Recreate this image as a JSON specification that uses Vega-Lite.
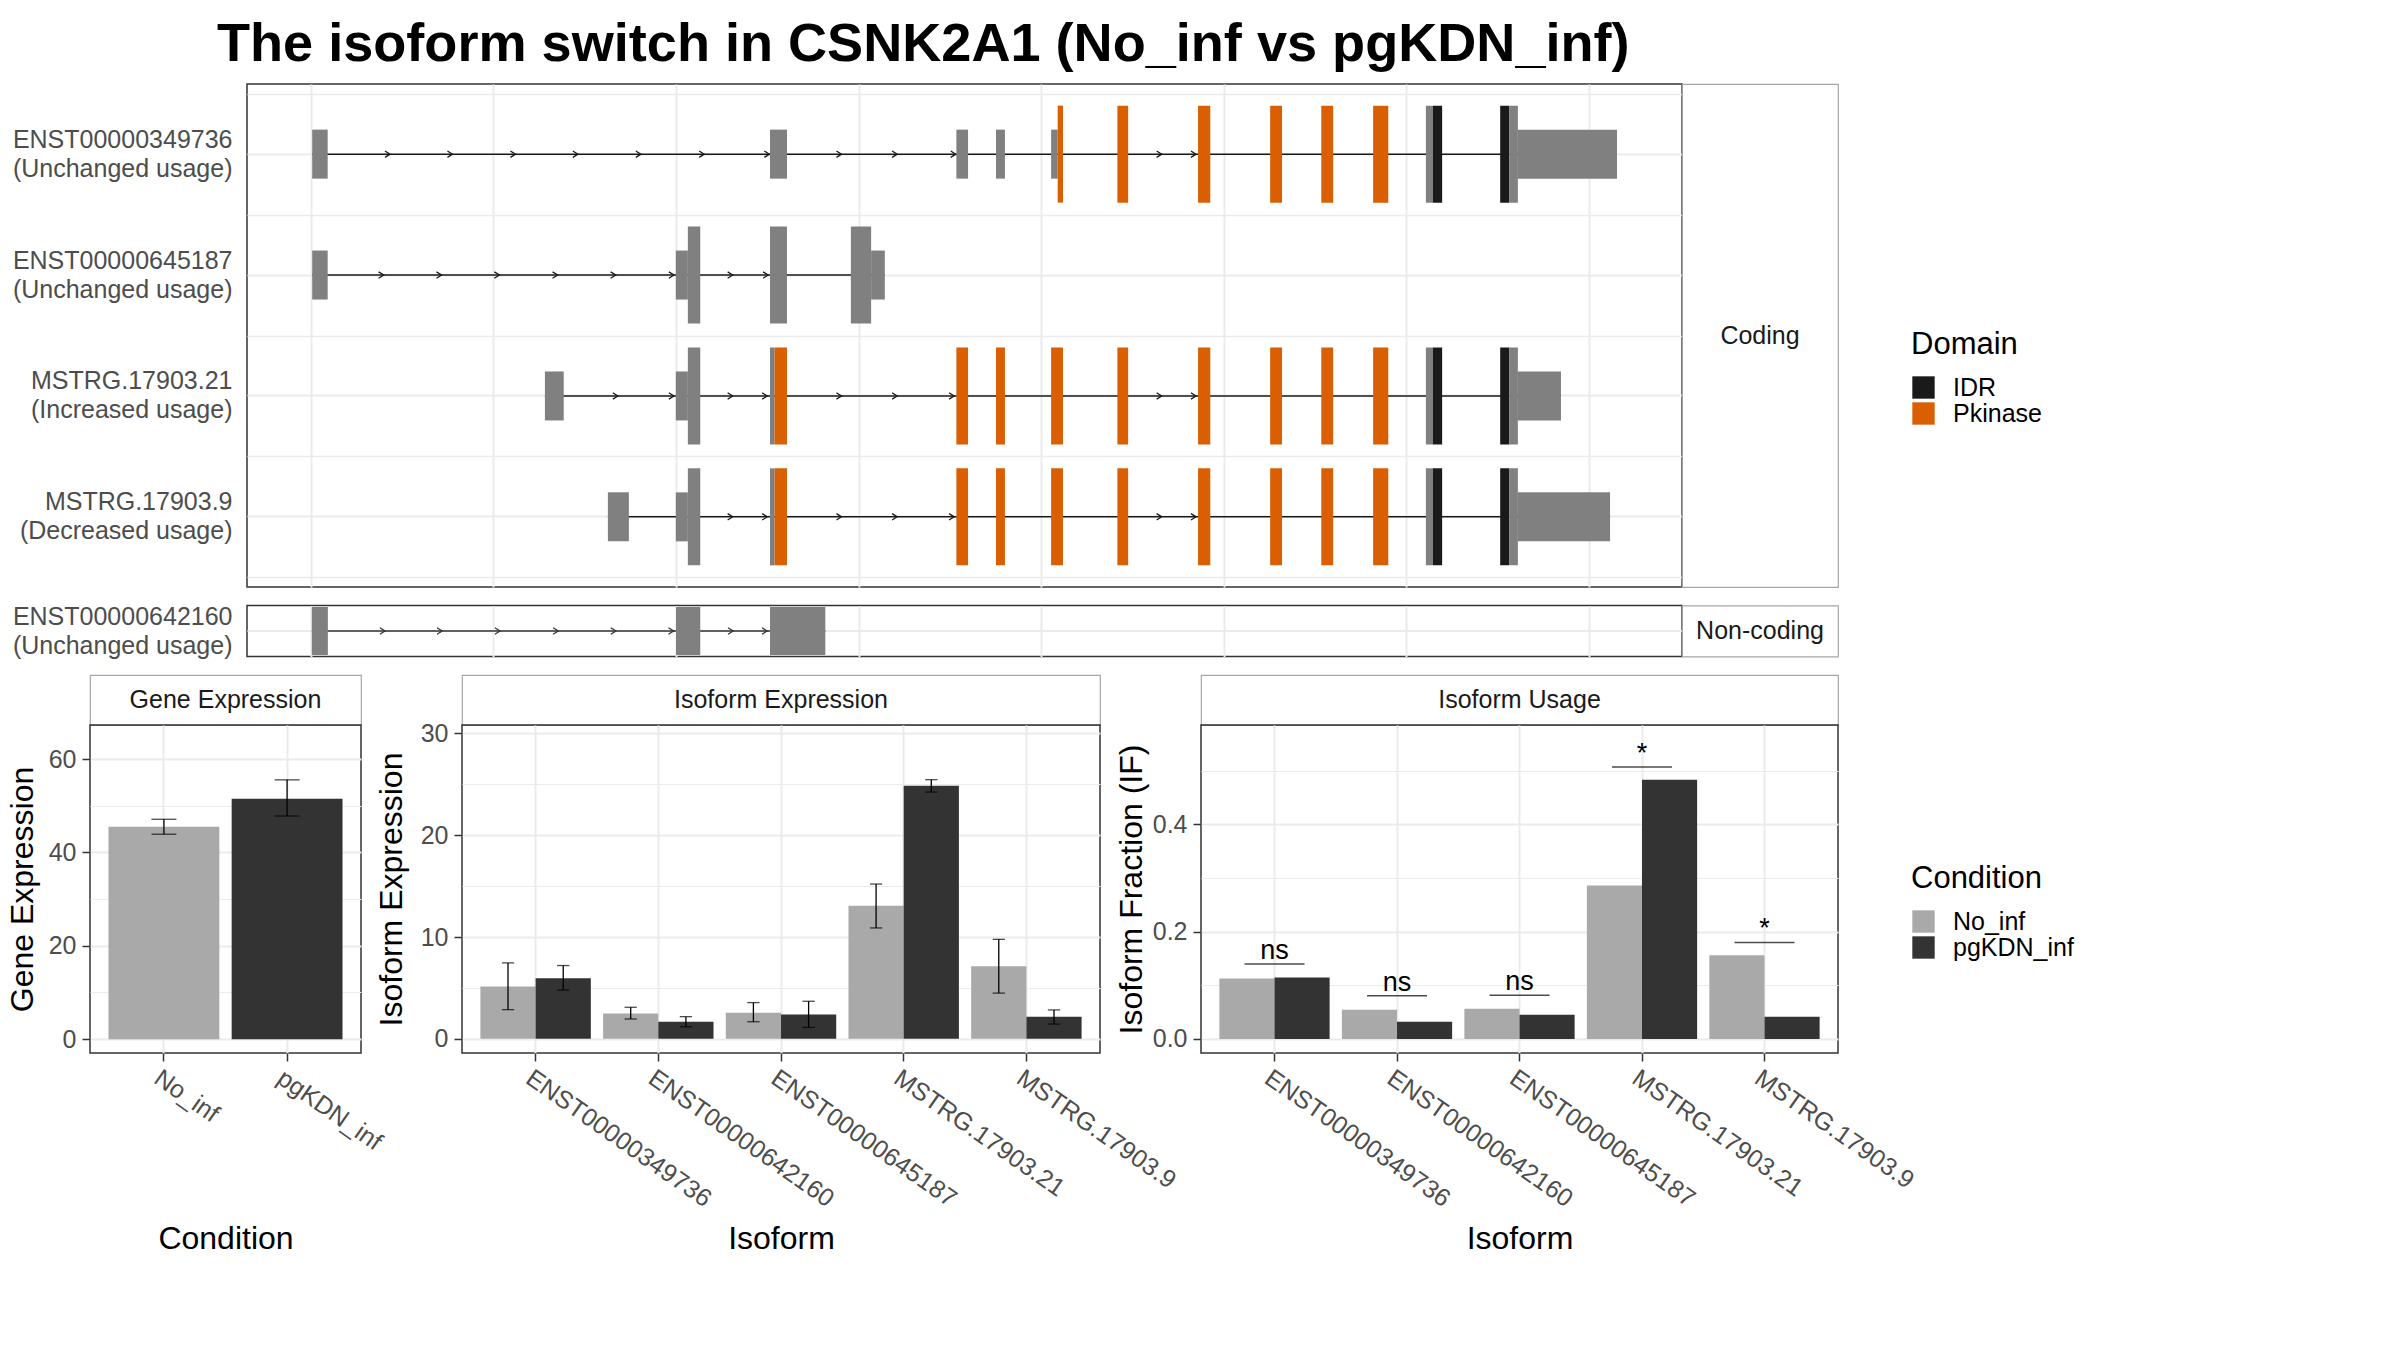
{
  "$schema": "https://vega.github.io/schema/vega-lite/v6.json",
  "background": "white",
  "padding": {"left": 5, "top": 18, "right": 10, "bottom": 10},
  "title": {"text": "The isoform switch in CSNK2A1 (No_inf vs pgKDN_inf)", "anchor": "start", "frame": "group", "dx": 127, "fontSize": 54.1, "fontWeight": "bold", "color": "black", "offset": 11},
  "config": {
    "font": "Liberation Sans",
    "view": {"stroke": "#333333", "strokeWidth": 1.5},
    "axis": {"labelFontSize": 25, "labelColor": "#4D4D4D", "labelLimit": 400, "titleFontSize": 32, "titleFontWeight": "normal", "titleColor": "black", "tickColor": "#333333", "tickSize": 8, "tickWidth": 1.5, "domain": false, "gridColor": "#EBEBEB", "gridWidth": 2},
    "legend": {"titleFontSize": 31, "titleFontWeight": "normal", "titleColor": "black", "labelFontSize": 25, "labelColor": "black", "symbolType": "square", "symbolSize": 500, "symbolStrokeWidth": 0, "symbolOpacity": 1, "rowPadding": 0, "labelOffset": 17, "titlePadding": 14}
  },
  "datasets": {
    "exons": [
      {"t": "ENST00000349736 (Unchanged usage)", "start": 0.07, "end": 0.92, "part": "UTR", "domain": "none"},
      {"t": "ENST00000349736 (Unchanged usage)", "start": 25.15, "end": 26.08, "part": "UTR", "domain": "none"},
      {"t": "ENST00000349736 (Unchanged usage)", "start": 35.36, "end": 36.0, "part": "UTR", "domain": "none"},
      {"t": "ENST00000349736 (Unchanged usage)", "start": 37.53, "end": 38.02, "part": "UTR", "domain": "none"},
      {"t": "ENST00000349736 (Unchanged usage)", "start": 40.55, "end": 40.91, "part": "UTR", "domain": "none"},
      {"t": "ENST00000349736 (Unchanged usage)", "start": 40.91, "end": 41.2, "part": "CDS", "domain": "Pkinase"},
      {"t": "ENST00000349736 (Unchanged usage)", "start": 44.18, "end": 44.77, "part": "CDS", "domain": "Pkinase"},
      {"t": "ENST00000349736 (Unchanged usage)", "start": 48.6, "end": 49.27, "part": "CDS", "domain": "Pkinase"},
      {"t": "ENST00000349736 (Unchanged usage)", "start": 52.55, "end": 53.2, "part": "CDS", "domain": "Pkinase"},
      {"t": "ENST00000349736 (Unchanged usage)", "start": 55.35, "end": 56.0, "part": "CDS", "domain": "Pkinase"},
      {"t": "ENST00000349736 (Unchanged usage)", "start": 58.19, "end": 59.02, "part": "CDS", "domain": "Pkinase"},
      {"t": "ENST00000349736 (Unchanged usage)", "start": 61.08, "end": 61.47, "part": "CDS", "domain": "none"},
      {"t": "ENST00000349736 (Unchanged usage)", "start": 61.47, "end": 61.97, "part": "CDS", "domain": "IDR"},
      {"t": "ENST00000349736 (Unchanged usage)", "start": 65.15, "end": 65.64, "part": "CDS", "domain": "IDR"},
      {"t": "ENST00000349736 (Unchanged usage)", "start": 65.64, "end": 66.12, "part": "CDS", "domain": "none"},
      {"t": "ENST00000349736 (Unchanged usage)", "start": 66.12, "end": 71.55, "part": "UTR", "domain": "none"},
      {"t": "ENST00000645187 (Unchanged usage)", "start": 0.07, "end": 0.92, "part": "UTR", "domain": "none"},
      {"t": "ENST00000645187 (Unchanged usage)", "start": 19.99, "end": 20.65, "part": "UTR", "domain": "none"},
      {"t": "ENST00000645187 (Unchanged usage)", "start": 20.65, "end": 21.33, "part": "CDS", "domain": "none"},
      {"t": "ENST00000645187 (Unchanged usage)", "start": 25.15, "end": 26.08, "part": "CDS", "domain": "none"},
      {"t": "ENST00000645187 (Unchanged usage)", "start": 29.58, "end": 30.69, "part": "CDS", "domain": "none"},
      {"t": "ENST00000645187 (Unchanged usage)", "start": 30.69, "end": 31.44, "part": "UTR", "domain": "none"},
      {"t": "MSTRG.17903.21 (Increased usage)", "start": 12.82, "end": 13.85, "part": "UTR", "domain": "none"},
      {"t": "MSTRG.17903.21 (Increased usage)", "start": 19.99, "end": 20.65, "part": "UTR", "domain": "none"},
      {"t": "MSTRG.17903.21 (Increased usage)", "start": 20.65, "end": 21.33, "part": "CDS", "domain": "none"},
      {"t": "MSTRG.17903.21 (Increased usage)", "start": 25.15, "end": 25.4, "part": "CDS", "domain": "none"},
      {"t": "MSTRG.17903.21 (Increased usage)", "start": 25.4, "end": 26.08, "part": "CDS", "domain": "Pkinase"},
      {"t": "MSTRG.17903.21 (Increased usage)", "start": 35.36, "end": 36.0, "part": "CDS", "domain": "Pkinase"},
      {"t": "MSTRG.17903.21 (Increased usage)", "start": 37.53, "end": 38.02, "part": "CDS", "domain": "Pkinase"},
      {"t": "MSTRG.17903.21 (Increased usage)", "start": 40.55, "end": 41.2, "part": "CDS", "domain": "Pkinase"},
      {"t": "MSTRG.17903.21 (Increased usage)", "start": 44.18, "end": 44.77, "part": "CDS", "domain": "Pkinase"},
      {"t": "MSTRG.17903.21 (Increased usage)", "start": 48.6, "end": 49.27, "part": "CDS", "domain": "Pkinase"},
      {"t": "MSTRG.17903.21 (Increased usage)", "start": 52.55, "end": 53.2, "part": "CDS", "domain": "Pkinase"},
      {"t": "MSTRG.17903.21 (Increased usage)", "start": 55.35, "end": 56.0, "part": "CDS", "domain": "Pkinase"},
      {"t": "MSTRG.17903.21 (Increased usage)", "start": 58.19, "end": 59.02, "part": "CDS", "domain": "Pkinase"},
      {"t": "MSTRG.17903.21 (Increased usage)", "start": 61.08, "end": 61.47, "part": "CDS", "domain": "none"},
      {"t": "MSTRG.17903.21 (Increased usage)", "start": 61.47, "end": 61.97, "part": "CDS", "domain": "IDR"},
      {"t": "MSTRG.17903.21 (Increased usage)", "start": 65.15, "end": 65.64, "part": "CDS", "domain": "IDR"},
      {"t": "MSTRG.17903.21 (Increased usage)", "start": 65.64, "end": 66.12, "part": "CDS", "domain": "none"},
      {"t": "MSTRG.17903.21 (Increased usage)", "start": 66.12, "end": 68.48, "part": "UTR", "domain": "none"},
      {"t": "MSTRG.17903.9 (Decreased usage)", "start": 16.27, "end": 17.42, "part": "UTR", "domain": "none"},
      {"t": "MSTRG.17903.9 (Decreased usage)", "start": 19.99, "end": 20.65, "part": "UTR", "domain": "none"},
      {"t": "MSTRG.17903.9 (Decreased usage)", "start": 20.65, "end": 21.33, "part": "CDS", "domain": "none"},
      {"t": "MSTRG.17903.9 (Decreased usage)", "start": 25.15, "end": 25.4, "part": "CDS", "domain": "none"},
      {"t": "MSTRG.17903.9 (Decreased usage)", "start": 25.4, "end": 26.08, "part": "CDS", "domain": "Pkinase"},
      {"t": "MSTRG.17903.9 (Decreased usage)", "start": 35.36, "end": 36.0, "part": "CDS", "domain": "Pkinase"},
      {"t": "MSTRG.17903.9 (Decreased usage)", "start": 37.53, "end": 38.02, "part": "CDS", "domain": "Pkinase"},
      {"t": "MSTRG.17903.9 (Decreased usage)", "start": 40.55, "end": 41.2, "part": "CDS", "domain": "Pkinase"},
      {"t": "MSTRG.17903.9 (Decreased usage)", "start": 44.18, "end": 44.77, "part": "CDS", "domain": "Pkinase"},
      {"t": "MSTRG.17903.9 (Decreased usage)", "start": 48.6, "end": 49.27, "part": "CDS", "domain": "Pkinase"},
      {"t": "MSTRG.17903.9 (Decreased usage)", "start": 52.55, "end": 53.2, "part": "CDS", "domain": "Pkinase"},
      {"t": "MSTRG.17903.9 (Decreased usage)", "start": 55.35, "end": 56.0, "part": "CDS", "domain": "Pkinase"},
      {"t": "MSTRG.17903.9 (Decreased usage)", "start": 58.19, "end": 59.02, "part": "CDS", "domain": "Pkinase"},
      {"t": "MSTRG.17903.9 (Decreased usage)", "start": 61.08, "end": 61.47, "part": "CDS", "domain": "none"},
      {"t": "MSTRG.17903.9 (Decreased usage)", "start": 61.47, "end": 61.97, "part": "CDS", "domain": "IDR"},
      {"t": "MSTRG.17903.9 (Decreased usage)", "start": 65.15, "end": 65.64, "part": "CDS", "domain": "IDR"},
      {"t": "MSTRG.17903.9 (Decreased usage)", "start": 65.64, "end": 66.12, "part": "CDS", "domain": "none"},
      {"t": "MSTRG.17903.9 (Decreased usage)", "start": 66.12, "end": 71.17, "part": "UTR", "domain": "none"}
    ],
    "introns": [
      {"t": "ENST00000349736 (Unchanged usage)", "start": 0.07, "end": 71.55},
      {"t": "ENST00000645187 (Unchanged usage)", "start": 0.07, "end": 31.44},
      {"t": "MSTRG.17903.21 (Increased usage)", "start": 12.82, "end": 68.48},
      {"t": "MSTRG.17903.9 (Decreased usage)", "start": 16.27, "end": 71.17}
    ],
    "arrows": [
      {"t": "ENST00000349736 (Unchanged usage)", "pos": 4.34},
      {"t": "ENST00000349736 (Unchanged usage)", "pos": 7.76},
      {"t": "ENST00000349736 (Unchanged usage)", "pos": 11.21},
      {"t": "ENST00000349736 (Unchanged usage)", "pos": 14.63},
      {"t": "ENST00000349736 (Unchanged usage)", "pos": 18.08},
      {"t": "ENST00000349736 (Unchanged usage)", "pos": 21.55},
      {"t": "ENST00000349736 (Unchanged usage)", "pos": 25.12},
      {"t": "ENST00000349736 (Unchanged usage)", "pos": 29.07},
      {"t": "ENST00000349736 (Unchanged usage)", "pos": 32.12},
      {"t": "ENST00000349736 (Unchanged usage)", "pos": 35.33},
      {"t": "ENST00000349736 (Unchanged usage)", "pos": 46.61},
      {"t": "ENST00000349736 (Unchanged usage)", "pos": 48.49},
      {"t": "ENST00000645187 (Unchanged usage)", "pos": 3.99},
      {"t": "ENST00000645187 (Unchanged usage)", "pos": 7.16},
      {"t": "ENST00000645187 (Unchanged usage)", "pos": 10.33},
      {"t": "ENST00000645187 (Unchanged usage)", "pos": 13.52},
      {"t": "ENST00000645187 (Unchanged usage)", "pos": 16.7},
      {"t": "ENST00000645187 (Unchanged usage)", "pos": 19.89},
      {"t": "ENST00000645187 (Unchanged usage)", "pos": 23.11},
      {"t": "ENST00000645187 (Unchanged usage)", "pos": 25.05},
      {"t": "MSTRG.17903.21 (Increased usage)", "pos": 16.82},
      {"t": "MSTRG.17903.21 (Increased usage)", "pos": 19.89},
      {"t": "MSTRG.17903.21 (Increased usage)", "pos": 23.11},
      {"t": "MSTRG.17903.21 (Increased usage)", "pos": 25.0},
      {"t": "MSTRG.17903.21 (Increased usage)", "pos": 29.07},
      {"t": "MSTRG.17903.21 (Increased usage)", "pos": 32.12},
      {"t": "MSTRG.17903.21 (Increased usage)", "pos": 35.24},
      {"t": "MSTRG.17903.21 (Increased usage)", "pos": 46.61},
      {"t": "MSTRG.17903.21 (Increased usage)", "pos": 48.49},
      {"t": "MSTRG.17903.9 (Decreased usage)", "pos": 23.11},
      {"t": "MSTRG.17903.9 (Decreased usage)", "pos": 25.0},
      {"t": "MSTRG.17903.9 (Decreased usage)", "pos": 29.07},
      {"t": "MSTRG.17903.9 (Decreased usage)", "pos": 32.12},
      {"t": "MSTRG.17903.9 (Decreased usage)", "pos": 35.24},
      {"t": "MSTRG.17903.9 (Decreased usage)", "pos": 46.61},
      {"t": "MSTRG.17903.9 (Decreased usage)", "pos": 48.49}
    ],
    "nc_exons": [
      {"t": "ENST00000642160 (Unchanged usage)", "start": 0.05, "end": 0.93},
      {"t": "ENST00000642160 (Unchanged usage)", "start": 20.0, "end": 21.33},
      {"t": "ENST00000642160 (Unchanged usage)", "start": 25.15, "end": 28.18}
    ],
    "nc_introns": [
      {"t": "ENST00000642160 (Unchanged usage)", "start": 0.05, "end": 28.18}
    ],
    "nc_arrows": [
      {"t": "ENST00000642160 (Unchanged usage)", "pos": 4.06},
      {"t": "ENST00000642160 (Unchanged usage)", "pos": 7.19},
      {"t": "ENST00000642160 (Unchanged usage)", "pos": 10.36},
      {"t": "ENST00000642160 (Unchanged usage)", "pos": 13.55},
      {"t": "ENST00000642160 (Unchanged usage)", "pos": 16.71},
      {"t": "ENST00000642160 (Unchanged usage)", "pos": 19.87},
      {"t": "ENST00000642160 (Unchanged usage)", "pos": 23.13},
      {"t": "ENST00000642160 (Unchanged usage)", "pos": 24.99}
    ],
    "gene": [
      {"condition": "No_inf", "value": 45.5, "lo": 43.9, "hi": 47.1},
      {"condition": "pgKDN_inf", "value": 51.5, "lo": 47.8, "hi": 55.55}
    ],
    "iso_expr": [
      {"isoform": "ENST00000349736", "condition": "No_inf", "value": 5.15, "lo": 2.87, "hi": 7.46},
      {"isoform": "ENST00000349736", "condition": "pgKDN_inf", "value": 5.94, "lo": 4.79, "hi": 7.2},
      {"isoform": "ENST00000642160", "condition": "No_inf", "value": 2.48, "lo": 1.95, "hi": 3.1},
      {"isoform": "ENST00000642160", "condition": "pgKDN_inf", "value": 1.68, "lo": 1.19, "hi": 2.18},
      {"isoform": "ENST00000645187", "condition": "No_inf", "value": 2.57, "lo": 1.68, "hi": 3.56},
      {"isoform": "ENST00000645187", "condition": "pgKDN_inf", "value": 2.38, "lo": 1.12, "hi": 3.69},
      {"isoform": "MSTRG.17903.21", "condition": "No_inf", "value": 13.07, "lo": 10.89, "hi": 15.2},
      {"isoform": "MSTRG.17903.21", "condition": "pgKDN_inf", "value": 24.85, "lo": 24.23, "hi": 25.45},
      {"isoform": "MSTRG.17903.9", "condition": "No_inf", "value": 7.13, "lo": 4.49, "hi": 9.77},
      {"isoform": "MSTRG.17903.9", "condition": "pgKDN_inf", "value": 2.18, "lo": 1.45, "hi": 2.84}
    ],
    "iso_usage": [
      {"isoform": "ENST00000349736", "condition": "No_inf", "value": 0.1128},
      {"isoform": "ENST00000349736", "condition": "pgKDN_inf", "value": 0.1147},
      {"isoform": "ENST00000642160", "condition": "No_inf", "value": 0.0545},
      {"isoform": "ENST00000642160", "condition": "pgKDN_inf", "value": 0.032},
      {"isoform": "ENST00000645187", "condition": "No_inf", "value": 0.0564},
      {"isoform": "ENST00000645187", "condition": "pgKDN_inf", "value": 0.0451},
      {"isoform": "MSTRG.17903.21", "condition": "No_inf", "value": 0.2859},
      {"isoform": "MSTRG.17903.21", "condition": "pgKDN_inf", "value": 0.4834},
      {"isoform": "MSTRG.17903.9", "condition": "No_inf", "value": 0.1561},
      {"isoform": "MSTRG.17903.9", "condition": "pgKDN_inf", "value": 0.0414}
    ],
    "sig": [
      {"isoform": "ENST00000349736", "sig": 0.1398, "label": "ns"},
      {"isoform": "ENST00000642160", "sig": 0.0803, "label": "ns"},
      {"isoform": "ENST00000645187", "sig": 0.0815, "label": "ns"},
      {"isoform": "MSTRG.17903.21", "sig": 0.507, "label": "*"},
      {"isoform": "MSTRG.17903.9", "sig": 0.18, "label": "*"}
    ]
  },
  "spacing": 14.5,
  "resolve": {"scale": {"color": "independent", "size": "independent", "xOffset": "independent", "x": "independent", "y": "independent"}, "legend": {"color": "independent", "size": "independent"}},
  "vconcat": [
    {
      "hconcat": [
        {"width": 157, "height": 10, "data": {"values": [{"s": 1}]}, "mark": {"type": "point", "opacity": 0}, "view": {"stroke": null}},
        {
          "width": 1435, "height": 503,
          "resolve": {"axis": {"x": "independent", "y": "independent"}},
          "layer": [
            {
              "data": {"name": "introns"},
              "mark": {"type": "rule", "color": "#1A1A1A", "strokeWidth": 1.5},
              "encoding": {
                "x": {"field": "start", "type": "quantitative", "scale": {"domain": [-3.5, 75.11], "nice": false, "zero": false}, "axis": {"title": null, "values": [0, 10, 20, 30, 40, 50, 60, 70], "labels": false, "ticks": false, "grid": true, "gridWidth": 2}},
                "x2": {"field": "end"},
                "y": {"field": "t", "type": "nominal", "sort": null, "scale": {"domain": ["ENST00000349736 (Unchanged usage)", "ENST00000645187 (Unchanged usage)", "MSTRG.17903.21 (Increased usage)", "MSTRG.17903.9 (Decreased usage)"], "paddingInner": 0, "paddingOuter": 0.08},
                  "axis": {"title": null, "orient": "left", "ticks": false, "grid": true, "gridWidth": 2, "labelPadding": 15, "labelOffset": -14.5, "labelAlign": "right", "labelBaseline": "middle", "labelLineHeight": 29, "labelExpr": "[split(datum.value, ' (')[0], '(' + split(datum.value, ' (')[1]]"}}
              }
            },
            {
              "data": {"name": "arrows"},
              "mark": {"type": "point", "shape": "M-1.6,-1L0,0L-1.6,1", "filled": false, "size": 41, "stroke": "#1A1A1A", "strokeWidth": 1.3, "opacity": 1},
              "encoding": {
                "x": {"field": "pos", "type": "quantitative", "scale": {"domain": [-3.5, 75.11], "nice": false, "zero": false}, "axis": null},
                "y": {"field": "t", "type": "nominal", "sort": null, "scale": {"domain": ["ENST00000349736 (Unchanged usage)", "ENST00000645187 (Unchanged usage)", "MSTRG.17903.21 (Increased usage)", "MSTRG.17903.9 (Decreased usage)"], "paddingInner": 0, "paddingOuter": 0.08},
                  "axis": {"title": null, "orient": "right", "labels": false, "ticks": false, "domain": false, "grid": true, "gridWidth": 1.6, "tickBand": "extent"}}
              }
            },
            {
              "data": {"name": "exons"},
              "mark": {"type": "bar"},
              "encoding": {
                "x": {"field": "start", "type": "quantitative", "scale": {"domain": [-3.5, 75.11], "nice": false, "zero": false}, "axis": null},
                "x2": {"field": "end"},
                "y": {"field": "t", "type": "nominal", "sort": null, "scale": {"domain": ["ENST00000349736 (Unchanged usage)", "ENST00000645187 (Unchanged usage)", "MSTRG.17903.21 (Increased usage)", "MSTRG.17903.9 (Decreased usage)"], "paddingInner": 0, "paddingOuter": 0.08}, "axis": null},
                "size": {"field": "part", "type": "nominal", "scale": {"type": "point", "domain": ["UTR", "CDS"], "range": [49, 97], "padding": 0}, "legend": null},
                "color": {"field": "domain", "type": "nominal", "scale": {"domain": ["IDR", "Pkinase", "none"], "range": ["#1A1A1A", "#D95F02", "#808080"]},
                  "legend": {"title": "Domain", "values": ["IDR", "Pkinase"], "orient": "none", "legendX": 1664, "legendY": 246}}
              }
            }
          ]
        },
        {"width": 156, "height": 503, "data": {"values": [{"panel": "Coding"}]}, "mark": {"type": "text", "fontSize": 25, "color": "#1A1A1A"}, "encoding": {"text": {"field": "panel"}}, "view": {"stroke": "#A6A6A6", "strokeWidth": 1.2}}
      ],
      "spacing": 0,
      "bounds": "flush",
      "resolve": {"scale": {"color": "independent", "size": "independent", "xOffset": "independent", "x": "independent", "y": "independent"}, "legend": {"color": "independent", "size": "independent"}}
    },
    {
      "hconcat": [
        {"width": 157, "height": 10, "data": {"values": [{"s": 1}]}, "mark": {"type": "point", "opacity": 0}, "view": {"stroke": null}},
        {
          "width": 1435, "height": 51,
          "resolve": {"axis": {"x": "independent", "y": "independent"}},
          "layer": [
            {
              "data": {"name": "nc_introns"},
              "mark": {"type": "rule", "color": "#333333", "strokeWidth": 1.5},
              "encoding": {
                "x": {"field": "start", "type": "quantitative", "scale": {"domain": [-3.5, 75.11], "nice": false, "zero": false}, "axis": {"title": null, "values": [0, 10, 20, 30, 40, 50, 60, 70], "labels": false, "ticks": false, "grid": true, "gridWidth": 2}},
                "x2": {"field": "end"},
                "y": {"field": "t", "type": "nominal", "scale": {"paddingInner": 0, "paddingOuter": 0.03},
                  "axis": {"title": null, "ticks": false, "grid": true, "gridWidth": 2, "labelPadding": 15, "labelOffset": -14.5, "labelAlign": "right", "labelBaseline": "middle", "labelLineHeight": 29, "labelExpr": "[split(datum.value, ' (')[0], '(' + split(datum.value, ' (')[1]]"}}
              }
            },
            {
              "data": {"name": "nc_arrows"},
              "mark": {"type": "point", "shape": "M-1.6,-1L0,0L-1.6,1", "filled": false, "size": 41, "stroke": "#333333", "strokeWidth": 1.3, "opacity": 1},
              "encoding": {
                "x": {"field": "pos", "type": "quantitative", "scale": {"domain": [-3.5, 75.11], "nice": false, "zero": false}, "axis": null},
                "y": {"field": "t", "type": "nominal", "scale": {"paddingInner": 0, "paddingOuter": 0.03}, "axis": null}
              }
            },
            {
              "data": {"name": "nc_exons"},
              "mark": {"type": "bar", "height": 48, "color": "#808080"},
              "encoding": {
                "x": {"field": "start", "type": "quantitative", "scale": {"domain": [-3.5, 75.11], "nice": false, "zero": false}, "axis": null},
                "x2": {"field": "end"},
                "y": {"field": "t", "type": "nominal", "scale": {"paddingInner": 0, "paddingOuter": 0.03}, "axis": null}
              }
            }
          ]
        },
        {"width": 156, "height": 51, "data": {"values": [{"panel": "Non-coding"}]}, "mark": {"type": "text", "fontSize": 25, "color": "#1A1A1A"}, "encoding": {"text": {"field": "panel"}}, "view": {"stroke": "#A6A6A6", "strokeWidth": 1.2}}
      ],
      "spacing": 0,
      "bounds": "flush",
      "resolve": {"scale": {"color": "independent", "size": "independent", "xOffset": "independent", "x": "independent", "y": "independent"}, "legend": {"color": "independent", "size": "independent"}}
    },
    {
      "columns": 3,
      "spacing": {"row": 0, "column": 101},
      "bounds": "flush",
      "resolve": {"scale": {"color": "independent", "size": "independent", "xOffset": "independent", "x": "independent", "y": "independent"}, "legend": {"color": "independent", "size": "independent"}},
      "concat": [
        {"width": 271, "height": 50, "data": {"values": [{"panel": "Gene Expression"}]}, "mark": {"type": "text", "fontSize": 25, "color": "#1A1A1A"}, "encoding": {"text": {"field": "panel"}}, "view": {"stroke": "#A6A6A6", "strokeWidth": 1.2}},
        {"width": 638, "height": 50, "data": {"values": [{"panel": "Isoform Expression"}]}, "mark": {"type": "text", "fontSize": 25, "color": "#1A1A1A"}, "encoding": {"text": {"field": "panel"}}, "view": {"stroke": "#A6A6A6", "strokeWidth": 1.2}},
        {"width": 637, "height": 50, "data": {"values": [{"panel": "Isoform Usage"}]}, "mark": {"type": "text", "fontSize": 25, "color": "#1A1A1A"}, "encoding": {"text": {"field": "panel"}}, "view": {"stroke": "#A6A6A6", "strokeWidth": 1.2}},
        {
          "width": 271, "height": 328,
          "data": {"name": "gene"},
          "resolve": {"axis": {"x": "independent", "y": "independent"}},
          "layer": [
            {
              "mark": {"type": "bar"},
              "encoding": {
                "x": {"field": "condition", "type": "nominal", "scale": {"domain": ["No_inf", "pgKDN_inf"], "paddingInner": 0.1, "paddingOuter": 0.15},
                  "axis": {"title": "Condition", "titleY": 185, "titleBaseline": "middle", "labelAngle": 35, "labelAlign": "left", "labelBaseline": "top", "labelPadding": 4, "grid": true, "gridWidth": 2}},
                "y": {"field": "value", "type": "quantitative", "scale": {"domain": [-2.97, 67.3], "nice": false, "zero": false},
                  "axis": {"title": "Gene Expression", "titleX": -68, "titleBaseline": "middle", "values": [0, 10, 20, 30, 40, 50, 60], "labelPadding": 6,
                    "labelExpr": "datum.value % 20 === 0 ? datum.label : ''",
                    "tickOpacity": {"condition": {"test": "datum.value % 20 === 0", "value": 1}, "value": 0},
                    "gridWidth": {"condition": {"test": "datum.value % 20 === 0", "value": 2}, "value": 1.2}}},
                "y2": {"datum": 0},
                "color": {"field": "condition", "type": "nominal", "scale": {"domain": ["No_inf", "pgKDN_inf"], "range": ["#A9A9A9", "#333333"]},
                  "legend": {"title": "Condition", "orient": "none", "legendX": 1821, "legendY": 139}}
              }
            },
            {
              "mark": {"type": "rule", "color": "black", "strokeWidth": 1.3},
              "encoding": {
                "x": {"field": "condition", "type": "nominal", "scale": {"domain": ["No_inf", "pgKDN_inf"], "paddingInner": 0.1, "paddingOuter": 0.15}, "axis": null},
                "y": {"field": "lo", "type": "quantitative", "scale": {"domain": [-2.97, 67.3], "nice": false, "zero": false}, "axis": null},
                "y2": {"field": "hi"}
              }
            },
            {
              "mark": {"type": "tick", "orient": "horizontal", "color": "black", "size": 25, "thickness": 1.3},
              "encoding": {
                "x": {"field": "condition", "type": "nominal", "scale": {"domain": ["No_inf", "pgKDN_inf"], "paddingInner": 0.1, "paddingOuter": 0.15}, "axis": null},
                "y": {"field": "lo", "type": "quantitative", "scale": {"domain": [-2.97, 67.3], "nice": false, "zero": false}, "axis": null}
              }
            },
            {
              "mark": {"type": "tick", "orient": "horizontal", "color": "black", "size": 25, "thickness": 1.3},
              "encoding": {
                "x": {"field": "condition", "type": "nominal", "scale": {"domain": ["No_inf", "pgKDN_inf"], "paddingInner": 0.1, "paddingOuter": 0.15}, "axis": null},
                "y": {"field": "hi", "type": "quantitative", "scale": {"domain": [-2.97, 67.3], "nice": false, "zero": false}, "axis": null}
              }
            }
          ]
        },
        {
          "width": 638, "height": 328,
          "data": {"name": "iso_expr"},
          "resolve": {"axis": {"x": "independent", "y": "independent"}},
          "layer": [
            {
              "mark": {"type": "bar"},
              "encoding": {
                "x": {"field": "isoform", "type": "nominal", "scale": {"domain": ["ENST00000349736", "ENST00000642160", "ENST00000645187", "MSTRG.17903.21", "MSTRG.17903.9"], "paddingInner": 0.1, "paddingOuter": 0.15},
                  "axis": {"title": "Isoform", "titleY": 185, "titleBaseline": "middle", "labelAngle": 35, "labelAlign": "left", "labelBaseline": "top", "labelPadding": 4, "grid": true, "gridWidth": 2}},
                "xOffset": {"field": "condition", "type": "nominal", "scale": {"domain": ["No_inf", "pgKDN_inf"], "paddingInner": 0, "paddingOuter": 0}},
                "y": {"field": "value", "type": "quantitative", "scale": {"domain": [-1.39, 30.82], "nice": false, "zero": false},
                  "axis": {"title": "Isoform Expression", "titleX": -71, "titleBaseline": "middle", "values": [0, 5, 10, 15, 20, 25, 30], "labelPadding": 6,
                    "labelExpr": "datum.value % 10 === 0 ? datum.label : ''",
                    "tickOpacity": {"condition": {"test": "datum.value % 10 === 0", "value": 1}, "value": 0},
                    "gridWidth": {"condition": {"test": "datum.value % 10 === 0", "value": 2}, "value": 1.2}}},
                "y2": {"datum": 0},
                "color": {"field": "condition", "type": "nominal", "scale": {"domain": ["No_inf", "pgKDN_inf"], "range": ["#A9A9A9", "#333333"]}, "legend": null}
              }
            },
            {
              "mark": {"type": "rule", "color": "black", "strokeWidth": 1.3},
              "encoding": {
                "x": {"field": "isoform", "type": "nominal", "scale": {"domain": ["ENST00000349736", "ENST00000642160", "ENST00000645187", "MSTRG.17903.21", "MSTRG.17903.9"], "paddingInner": 0.1, "paddingOuter": 0.15}, "axis": null},
                "xOffset": {"field": "condition", "type": "nominal", "scale": {"domain": ["No_inf", "pgKDN_inf"], "paddingInner": 0, "paddingOuter": 0}},
                "y": {"field": "lo", "type": "quantitative", "scale": {"domain": [-1.39, 30.82], "nice": false, "zero": false}, "axis": null},
                "y2": {"field": "hi"}
              }
            },
            {
              "mark": {"type": "tick", "orient": "horizontal", "color": "black", "size": 12.3, "thickness": 1.3},
              "encoding": {
                "x": {"field": "isoform", "type": "nominal", "scale": {"domain": ["ENST00000349736", "ENST00000642160", "ENST00000645187", "MSTRG.17903.21", "MSTRG.17903.9"], "paddingInner": 0.1, "paddingOuter": 0.15}, "axis": null},
                "xOffset": {"field": "condition", "type": "nominal", "scale": {"domain": ["No_inf", "pgKDN_inf"], "paddingInner": 0, "paddingOuter": 0}},
                "y": {"field": "lo", "type": "quantitative", "scale": {"domain": [-1.39, 30.82], "nice": false, "zero": false}, "axis": null}
              }
            },
            {
              "mark": {"type": "tick", "orient": "horizontal", "color": "black", "size": 12.3, "thickness": 1.3},
              "encoding": {
                "x": {"field": "isoform", "type": "nominal", "scale": {"domain": ["ENST00000349736", "ENST00000642160", "ENST00000645187", "MSTRG.17903.21", "MSTRG.17903.9"], "paddingInner": 0.1, "paddingOuter": 0.15}, "axis": null},
                "xOffset": {"field": "condition", "type": "nominal", "scale": {"domain": ["No_inf", "pgKDN_inf"], "paddingInner": 0, "paddingOuter": 0}},
                "y": {"field": "hi", "type": "quantitative", "scale": {"domain": [-1.39, 30.82], "nice": false, "zero": false}, "axis": null}
              }
            }
          ]
        },
        {
          "width": 637, "height": 328,
          "resolve": {"axis": {"x": "independent", "y": "independent"}},
          "layer": [
            {
              "data": {"name": "iso_usage"},
              "mark": {"type": "bar"},
              "encoding": {
                "x": {"field": "isoform", "type": "nominal", "scale": {"domain": ["ENST00000349736", "ENST00000642160", "ENST00000645187", "MSTRG.17903.21", "MSTRG.17903.9"], "paddingInner": 0.1, "paddingOuter": 0.15},
                  "axis": {"title": "Isoform", "titleY": 185, "titleBaseline": "middle", "labelAngle": 35, "labelAlign": "left", "labelBaseline": "top", "labelPadding": 4, "grid": true, "gridWidth": 2}},
                "xOffset": {"field": "condition", "type": "nominal", "scale": {"domain": ["No_inf", "pgKDN_inf"], "paddingInner": 0, "paddingOuter": 0}},
                "y": {"field": "value", "type": "quantitative", "scale": {"domain": [-0.0263, 0.5855], "nice": false, "zero": false},
                  "axis": {"title": "Isoform Fraction (IF)", "titleX": -70, "titleBaseline": "middle", "values": [0, 0.1, 0.2, 0.3, 0.4, 0.5], "format": ".1f", "labelPadding": 6,
                    "labelExpr": "round(datum.value * 10) % 2 === 0 ? datum.label : ''",
                    "tickOpacity": {"condition": {"test": "round(datum.value * 10) % 2 === 0", "value": 1}, "value": 0},
                    "gridWidth": {"condition": {"test": "round(datum.value * 10) % 2 === 0", "value": 2}, "value": 1.2}}},
                "y2": {"datum": 0},
                "color": {"field": "condition", "type": "nominal", "scale": {"domain": ["No_inf", "pgKDN_inf"], "range": ["#A9A9A9", "#333333"]}, "legend": null}
              }
            },
            {
              "data": {"name": "sig"},
              "mark": {"type": "tick", "orient": "horizontal", "color": "black", "size": 60, "thickness": 1.5},
              "encoding": {
                "x": {"field": "isoform", "type": "nominal", "scale": {"domain": ["ENST00000349736", "ENST00000642160", "ENST00000645187", "MSTRG.17903.21", "MSTRG.17903.9"], "paddingInner": 0.1, "paddingOuter": 0.15}, "axis": null},
                "y": {"field": "sig", "type": "quantitative", "scale": {"domain": [-0.0263, 0.5855], "nice": false, "zero": false}, "axis": null}
              }
            },
            {
              "data": {"name": "sig"},
              "mark": {"type": "text", "fontSize": 27, "baseline": "alphabetic", "dy": -5, "color": "black"},
              "encoding": {
                "x": {"field": "isoform", "type": "nominal", "scale": {"domain": ["ENST00000349736", "ENST00000642160", "ENST00000645187", "MSTRG.17903.21", "MSTRG.17903.9"], "paddingInner": 0.1, "paddingOuter": 0.15}, "axis": null},
                "y": {"field": "sig", "type": "quantitative", "scale": {"domain": [-0.0263, 0.5855], "nice": false, "zero": false}, "axis": null},
                "text": {"field": "label"}
              }
            }
          ]
        }
      ]
    }
  ]
}
